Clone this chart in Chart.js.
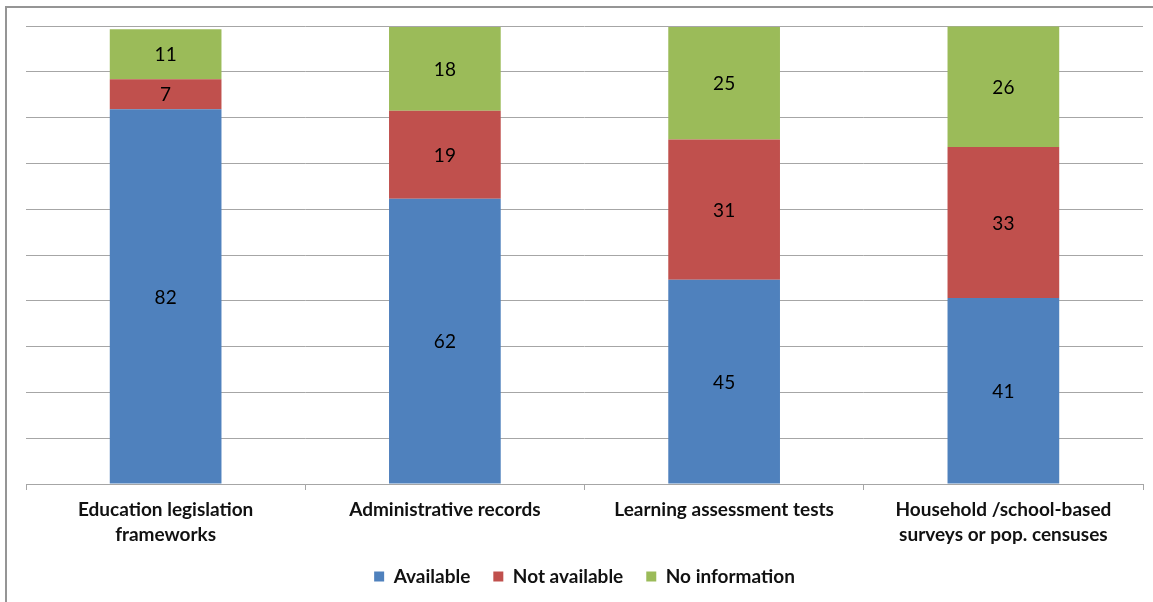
<!DOCTYPE html>
<html>
<head>
<meta charset="utf-8">
<script src="https://cdn.jsdelivr.net/npm/chart.js@4/dist/chart.umd.min.js"></script>
<style>
  html, body { margin: 0; padding: 0; background: #fff; overflow: hidden; }
  #wrap { position: relative; width: 1153px; height: 602px; }
  #frame { position: absolute; left: 5px; top: 6px; width: 1300px; height: 800px; border: 2px solid #959595; box-sizing: border-box; }
  canvas { position: absolute; left: 0; top: 0; }
</style>
</head>
<body>
<div id="wrap">
  <div id="frame"></div>
  <canvas id="c" width="1153" height="602"></canvas>
</div>
<script>
const categories = [
  ['Education legislation', 'frameworks'],
  ['Administrative records'],
  ['Learning assessment tests'],
  ['Household /school-based', 'surveys or pop. censuses']
];
const seriesNames = ['Available', 'Not available', 'No information'];
const available = [81.8, 62.3, 44.6, 40.6];
const notAvailable = [6.6, 19.2, 30.6, 33.0];
const noInformation = [10.9, 18.3, 24.6, 26.3];
const yMin = 0, yMax = 100, yStep = 10;

const FONT = 'Lato, "Open Sans", sans-serif';

const segLabels = {
  id: 'segLabels',
  afterDatasetsDraw(chart) {
    const ctx = chart.ctx;
    ctx.save();
    ctx.font = '19px ' + FONT;
    ctx.fillStyle = '#000';
    ctx.textAlign = 'center';
    ctx.textBaseline = 'middle';
    chart.data.datasets.forEach((ds, i) => {
      const meta = chart.getDatasetMeta(i);
      meta.data.forEach((el, j) => {
        const p = el.getProps(['x', 'y', 'base'], true);
        ctx.fillText(String(Math.round(ds.data[j])), p.x, (p.y + p.base) / 2 + 1);
      });
    });
    ctx.restore();
  }
};

new Chart(document.getElementById('c'), {
  type: 'bar',
  data: {
    labels: categories,
    datasets: [
      { label: seriesNames[0], data: available, backgroundColor: '#4F81BD' },
      { label: seriesNames[1], data: notAvailable, backgroundColor: '#C0504D' },
      { label: seriesNames[2], data: noInformation, backgroundColor: '#9BBB59' }
    ]
  },
  options: {
    responsive: false,
    animation: false,
    devicePixelRatio: 1,
    layout: { padding: { left: 26, right: 10, top: 26, bottom: 6 } },
    datasets: { bar: { categoryPercentage: 1, barPercentage: 0.4 } },
    scales: {
      x: {
        stacked: true,
        grid: { display: true, drawOnChartArea: false, drawTicks: true, tickLength: 6, color: '#a6a6a6', offset: true },
        border: { display: true, color: '#a6a6a6', width: 1 },
        ticks: {
          color: '#111',
          font: { family: FONT, size: 19, weight: 'bold', lineHeight: 1.32 },
          padding: 7,
          maxRotation: 0,
          autoSkip: false
        },
        afterFit(s) { s.height = 60; }
      },
      y: {
        stacked: true,
        min: yMin, max: yMax,
        grid: { color: '#a6a6a6', drawTicks: false, lineWidth: 1 },
        border: { display: false },
        ticks: { display: false, stepSize: yStep },
        afterFit(s) { s.width = 0; }
      }
    },
    plugins: {
      legend: {
        position: 'bottom',
        labels: {
          boxWidth: 10, boxHeight: 10, padding: 23,
          color: '#111',
          font: { family: FONT, size: 19, weight: 'bold' }
        }
      },
      tooltip: { enabled: false }
    }
  },
  plugins: [segLabels]
});
</script>
</body>
</html>
